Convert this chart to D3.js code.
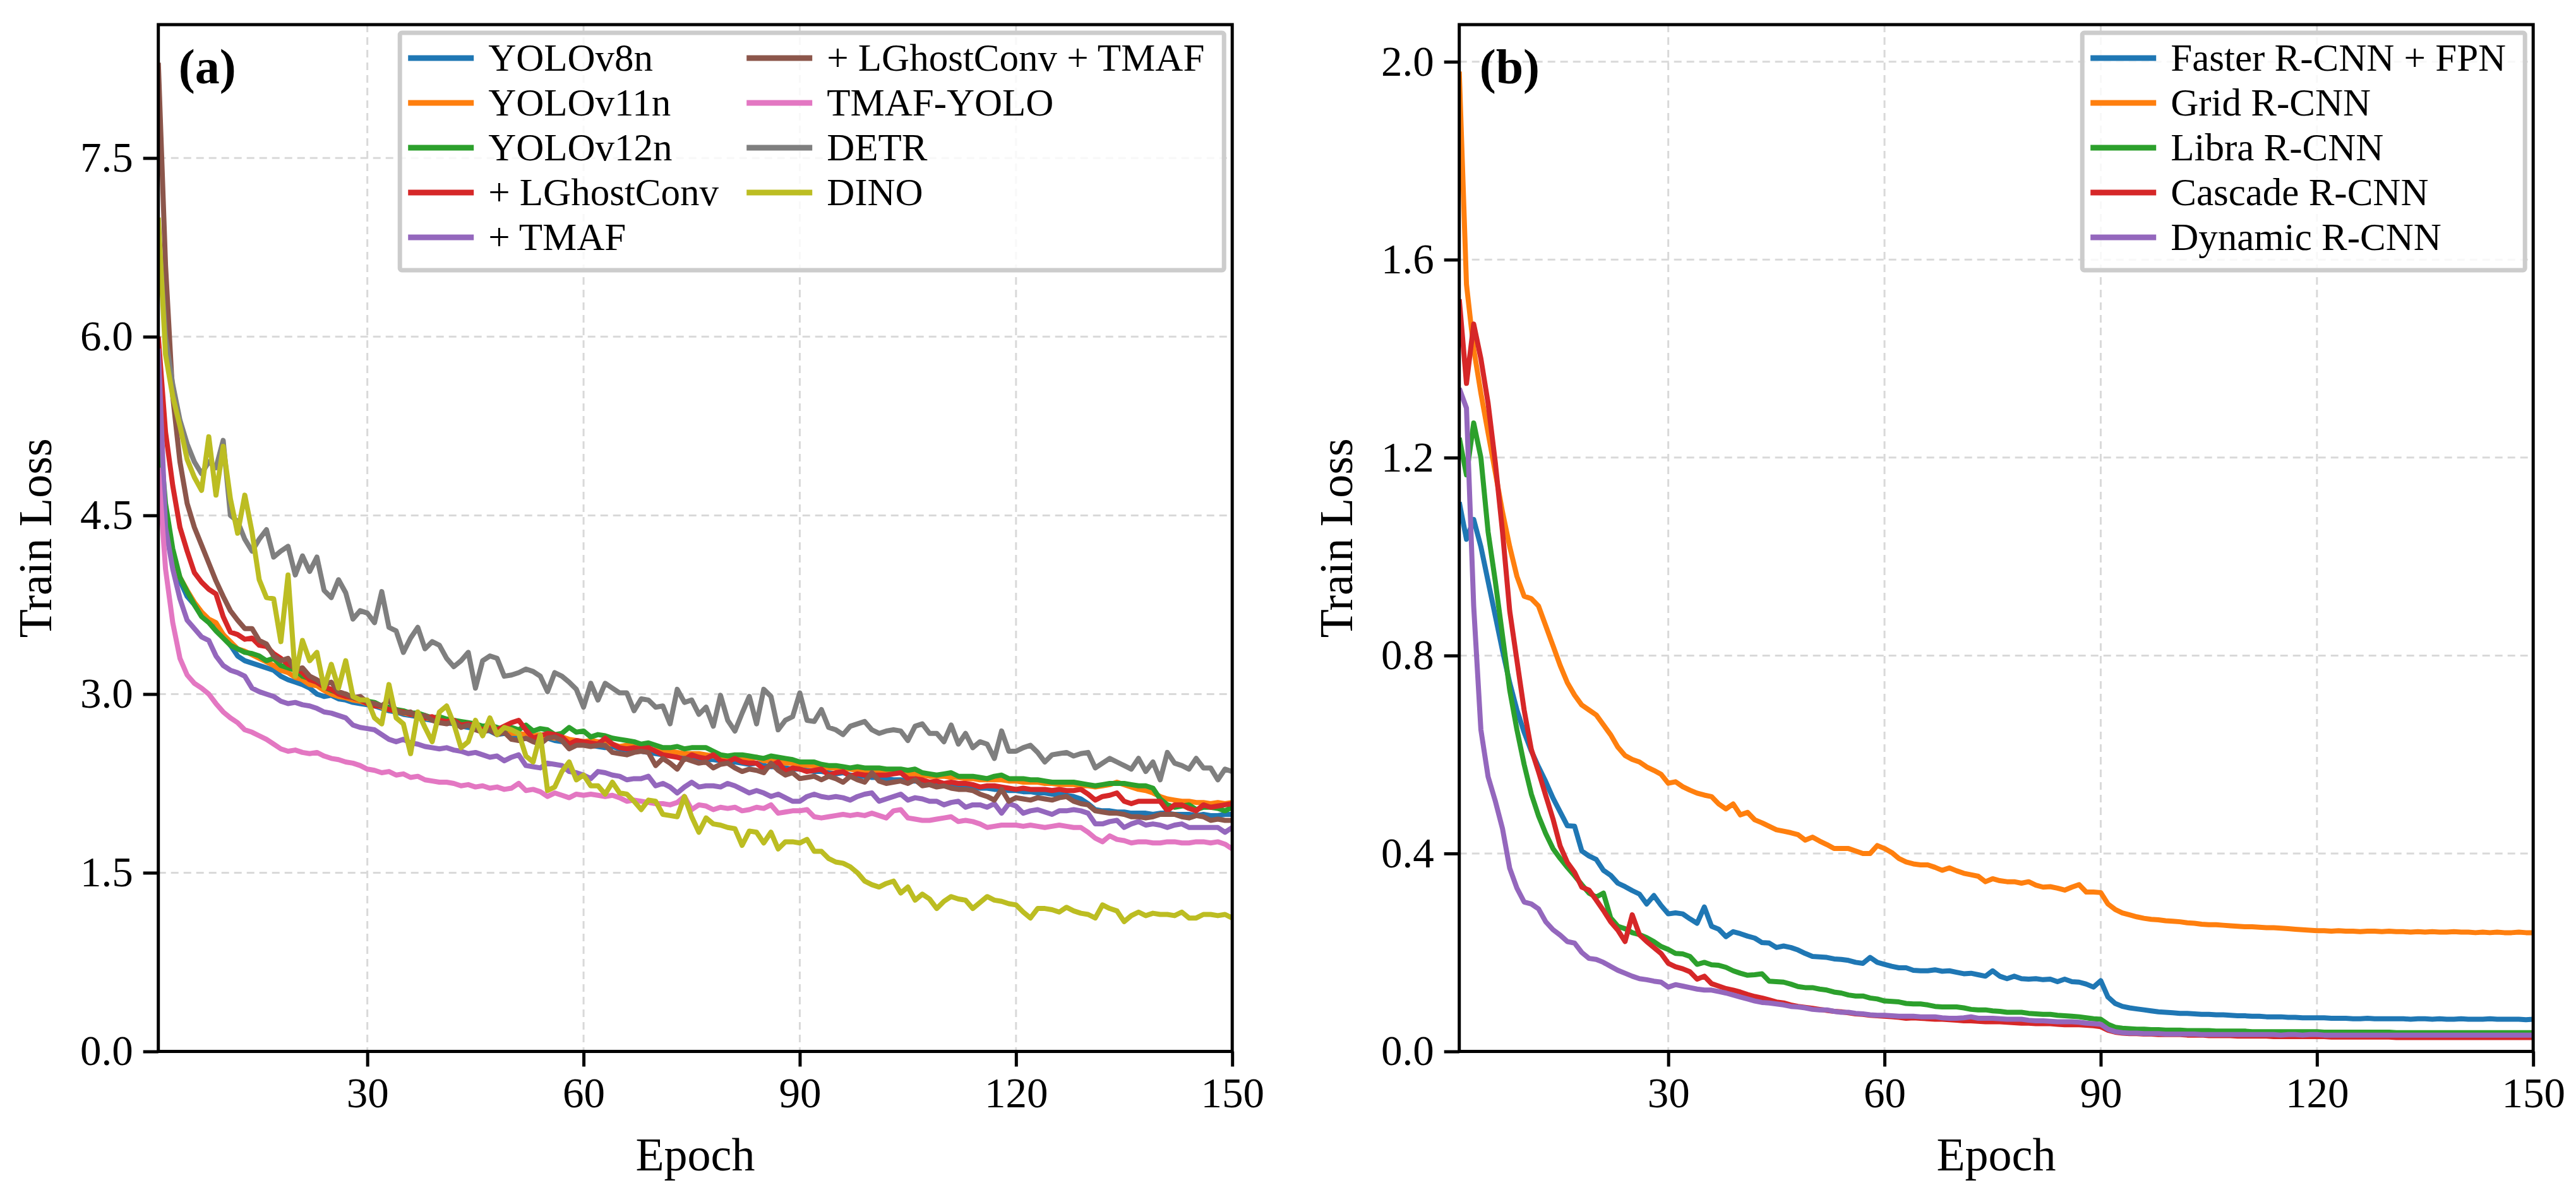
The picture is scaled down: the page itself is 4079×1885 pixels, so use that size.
<!DOCTYPE html>
<html>
<head>
<meta charset="utf-8">
<script src="https://cdn.jsdelivr.net/npm/d3@7"></script>
<style>
  body { margin: 0; background: #fff; }
  svg text { font-family: "Liberation Serif", "Times New Roman", serif; }
</style>
</head>
<body>
<div id="chart"></div>
<script>
// ---- Data: train loss per epoch (1..150) ----

// panel (a)
const yolov8n = [
  5.1,4.4,4.1,3.95,3.82,3.75,3.66,3.62,3.58,3.5,
  3.41,3.32,3.28,3.26,3.24,3.22,3.2,3.15,3.12,3.1,
  3.08,3.05,3.0,2.98,2.99,2.96,2.95,2.93,2.92,2.91,
  2.9,2.88,2.86,2.85,2.83,2.82,2.81,2.79,2.78,2.77,
  2.76,2.75,2.73,2.72,2.71,2.7,2.69,2.66,2.67,2.66,
  2.65,2.64,2.63,2.62,2.63,2.61,2.6,2.59,2.58,2.58,
  2.57,2.56,2.55,2.56,2.54,2.53,2.53,2.52,2.51,2.5,
  2.49,2.5,2.48,2.47,2.47,2.46,2.45,2.45,2.44,2.43,
  2.43,2.42,2.41,2.42,2.4,2.39,2.39,2.38,2.37,2.37,
  2.36,2.35,2.35,2.34,2.33,2.34,2.32,2.31,2.31,2.3,
  2.3,2.29,2.28,2.28,2.27,2.27,2.26,2.25,2.25,2.24,
  2.24,2.23,2.23,2.22,2.21,2.21,2.2,2.2,2.19,2.19,
  2.18,2.18,2.17,2.17,2.16,2.16,2.15,2.14,2.12,2.08,
  2.03,2.02,2.02,2.01,2.01,2.0,2.0,2.0,1.99,2.0,
  2.0,1.99,1.99,1.99,1.98,1.99,1.98,1.98,1.99,1.99
];
const yolov11n = [
  5.0,4.5,4.15,3.98,3.87,3.77,3.69,3.63,3.6,3.5,
  3.44,3.38,3.36,3.33,3.3,3.27,3.24,3.2,3.18,3.14,
  3.12,3.08,3.07,3.03,3.0,2.98,2.97,2.95,2.94,2.92,
  2.91,2.89,2.87,2.86,2.84,2.83,2.82,2.8,2.79,2.78,
  2.77,2.76,2.74,2.74,2.72,2.71,2.7,2.7,2.68,2.67,
  2.67,2.66,2.65,2.66,2.64,2.63,2.64,2.62,2.61,2.6,
  2.61,2.6,2.59,2.58,2.56,2.57,2.56,2.55,2.54,2.53,
  2.52,2.52,2.51,2.5,2.5,2.5,2.49,2.48,2.48,2.47,
  2.46,2.46,2.45,2.47,2.44,2.44,2.43,2.42,2.42,2.41,
  2.4,2.4,2.39,2.38,2.38,2.37,2.37,2.36,2.36,2.35,
  2.35,2.34,2.34,2.34,2.33,2.33,2.32,2.31,2.31,2.31,
  2.3,2.3,2.29,2.29,2.28,2.28,2.28,2.28,2.27,2.27,
  2.26,2.26,2.26,2.25,2.25,2.24,2.24,2.24,2.23,2.23,
  2.22,2.23,2.24,2.26,2.24,2.22,2.2,2.19,2.17,2.14,
  2.12,2.11,2.1,2.1,2.09,2.09,2.08,2.09,2.08,2.09
];
const yolov12n = [
  5.3,4.6,4.22,3.98,3.86,3.75,3.65,3.6,3.53,3.47,
  3.41,3.38,3.35,3.34,3.32,3.28,3.3,3.24,3.22,3.2,
  3.15,3.13,3.1,3.06,3.03,3.01,3.0,2.97,2.96,2.94,
  2.93,2.9,2.89,2.87,2.86,2.84,2.84,2.82,2.8,2.81,
  2.79,2.78,2.77,2.76,2.75,2.73,2.74,2.72,2.7,2.72,
  2.7,2.74,2.69,2.71,2.7,2.66,2.67,2.72,2.68,2.69,
  2.64,2.66,2.65,2.63,2.62,2.61,2.6,2.58,2.59,2.57,
  2.55,2.55,2.56,2.54,2.55,2.55,2.55,2.52,2.49,2.48,
  2.49,2.49,2.48,2.47,2.46,2.48,2.47,2.46,2.45,2.43,
  2.43,2.43,2.41,2.4,2.4,2.39,2.38,2.39,2.38,2.38,
  2.38,2.37,2.37,2.37,2.36,2.37,2.34,2.33,2.32,2.33,
  2.34,2.31,2.31,2.31,2.3,2.29,2.31,2.32,2.29,2.29,
  2.29,2.28,2.28,2.27,2.26,2.26,2.26,2.26,2.25,2.24,
  2.23,2.24,2.25,2.25,2.25,2.24,2.23,2.23,2.21,2.12,
  2.07,2.05,2.06,2.07,2.03,2.05,2.05,2.04,2.02,2.05
];
const plusLGhost = [
  6.0,5.2,4.75,4.4,4.2,4.02,3.94,3.88,3.84,3.65,
  3.52,3.5,3.46,3.47,3.41,3.4,3.34,3.3,3.25,3.22,
  3.18,3.12,3.1,3.06,3.04,3.0,2.98,2.97,2.95,2.92,
  2.9,2.9,2.87,2.86,2.85,2.83,2.83,2.8,2.81,2.78,
  2.77,2.78,2.74,2.75,2.73,2.7,2.72,2.7,2.73,2.76,
  2.78,2.7,2.63,2.65,2.67,2.66,2.64,2.58,2.61,2.6,
  2.59,2.58,2.63,2.58,2.55,2.54,2.55,2.54,2.55,2.52,
  2.49,2.48,2.47,2.45,2.49,2.47,2.46,2.49,2.44,2.43,
  2.46,2.43,2.42,2.42,2.37,2.4,2.43,2.35,2.38,2.37,
  2.35,2.36,2.37,2.32,2.34,2.35,2.31,2.33,2.32,2.32,
  2.32,2.32,2.33,2.34,2.29,2.29,2.28,2.26,2.27,2.25,
  2.26,2.25,2.25,2.24,2.22,2.23,2.23,2.22,2.21,2.2,
  2.21,2.2,2.2,2.2,2.19,2.2,2.19,2.19,2.2,2.16,
  2.11,2.14,2.15,2.17,2.1,2.08,2.1,2.1,2.1,2.1,
  2.02,2.07,2.07,2.04,2.02,2.07,2.05,2.06,2.07,2.08
];
const plusTMAF = [
  5.9,4.4,4.05,3.8,3.62,3.55,3.48,3.45,3.32,3.24,
  3.2,3.18,3.15,3.05,3.02,3.0,2.98,2.94,2.92,2.93,
  2.91,2.9,2.88,2.85,2.84,2.82,2.8,2.74,2.72,2.71,
  2.7,2.66,2.62,2.6,2.62,2.59,2.58,2.56,2.55,2.54,
  2.55,2.53,2.52,2.5,2.51,2.49,2.47,2.48,2.44,2.47,
  2.49,2.4,2.39,2.38,2.42,2.41,2.4,2.35,2.34,2.32,
  2.29,2.35,2.34,2.32,2.31,2.28,2.29,2.29,2.31,2.23,
  2.25,2.22,2.17,2.22,2.26,2.22,2.23,2.23,2.22,2.25,
  2.23,2.2,2.17,2.19,2.17,2.14,2.16,2.13,2.1,2.1,
  2.14,2.16,2.14,2.13,2.14,2.13,2.11,2.14,2.16,2.17,
  2.1,2.12,2.14,2.16,2.11,2.13,2.12,2.1,2.1,2.07,
  2.09,2.1,2.05,2.07,2.07,2.05,2.08,2.0,2.08,2.06,
  2.0,2.02,2.03,2.01,1.99,2.02,2.02,2.03,2.02,2.0,
  1.91,1.91,1.93,1.94,1.88,1.91,1.93,1.9,1.91,1.9,
  1.88,1.9,1.91,1.88,1.88,1.88,1.88,1.88,1.84,1.88
];
const plusLGhostTMAF = [
  8.3,6.6,5.5,4.95,4.6,4.4,4.25,4.1,3.95,3.82,
  3.7,3.62,3.55,3.55,3.45,3.42,3.32,3.28,3.3,3.2,
  3.22,3.15,3.12,3.08,3.1,3.02,3.0,2.97,2.98,2.93,
  2.92,2.9,2.95,2.86,2.84,2.85,2.8,2.82,2.78,2.76,
  2.75,2.77,2.72,2.74,2.7,2.68,2.7,2.66,2.68,2.62,
  2.61,2.63,2.6,2.58,2.63,2.64,2.61,2.54,2.57,2.57,
  2.56,2.57,2.57,2.51,2.5,2.49,2.51,2.52,2.51,2.4,
  2.46,2.42,2.37,2.46,2.44,2.42,2.43,2.38,2.41,2.42,
  2.38,2.35,2.37,2.36,2.34,2.42,2.36,2.32,2.34,2.29,
  2.3,2.31,2.28,2.31,2.29,2.26,2.31,2.28,2.26,2.34,
  2.27,2.25,2.26,2.27,2.25,2.28,2.23,2.24,2.22,2.23,
  2.21,2.2,2.2,2.19,2.16,2.14,2.11,2.2,2.1,2.13,
  2.12,2.11,2.13,2.12,2.11,2.13,2.14,2.1,2.08,2.07,
  2.02,2.01,2.0,2.0,1.99,1.97,1.97,1.96,1.97,1.99,
  1.99,1.99,1.97,1.96,1.98,1.97,1.94,1.95,1.94,1.94
];
const tmafYolo = [
  4.9,4.05,3.6,3.3,3.16,3.09,3.05,3.0,2.92,2.85,
  2.8,2.76,2.7,2.68,2.65,2.62,2.58,2.54,2.52,2.53,
  2.51,2.5,2.51,2.48,2.46,2.45,2.43,2.42,2.4,2.37,
  2.36,2.34,2.35,2.32,2.33,2.3,2.31,2.28,2.27,2.26,
  2.26,2.25,2.23,2.24,2.22,2.23,2.21,2.22,2.2,2.21,
  2.25,2.19,2.2,2.18,2.14,2.17,2.15,2.13,2.16,2.15,
  2.16,2.15,2.14,2.15,2.13,2.1,2.11,2.1,2.09,2.08,
  2.08,2.07,2.09,2.14,2.03,2.07,2.06,2.03,2.05,2.04,
  2.05,2.02,2.03,2.05,2.04,2.07,2.0,2.01,2.02,2.02,
  2.03,1.97,1.96,1.97,1.98,1.99,1.98,1.99,1.98,2.0,
  1.98,1.96,2.02,2.03,1.96,1.95,1.94,1.94,1.95,1.96,
  1.97,1.93,1.94,1.93,1.91,1.88,1.89,1.9,1.9,1.9,
  1.89,1.9,1.89,1.88,1.89,1.9,1.89,1.88,1.88,1.84,
  1.79,1.76,1.81,1.78,1.77,1.75,1.76,1.76,1.75,1.75,
  1.76,1.76,1.75,1.75,1.76,1.76,1.75,1.76,1.74,1.7
];
const detr = [
  6.9,6.0,5.6,5.3,5.1,4.95,4.85,4.95,4.9,5.13,
  4.5,4.45,4.3,4.2,4.3,4.38,4.15,4.2,4.24,4.0,
  4.16,4.03,4.15,3.87,3.81,3.96,3.85,3.63,3.7,3.68,
  3.6,3.86,3.56,3.53,3.35,3.47,3.56,3.38,3.44,3.41,
  3.3,3.23,3.28,3.35,3.05,3.28,3.32,3.3,3.15,3.16,
  3.18,3.21,3.19,3.15,3.02,3.18,3.15,3.1,3.04,2.89,
  3.09,2.95,3.09,3.05,3.01,3.01,2.86,2.96,2.95,2.89,
  2.9,2.75,3.04,2.93,2.95,2.83,2.89,2.73,2.99,2.78,
  2.69,2.84,2.98,2.75,3.04,2.98,2.7,2.78,2.81,3.01,
  2.78,2.77,2.87,2.72,2.7,2.66,2.73,2.75,2.77,2.7,
  2.67,2.69,2.7,2.69,2.61,2.73,2.75,2.67,2.67,2.6,
  2.74,2.58,2.67,2.55,2.6,2.58,2.46,2.69,2.52,2.52,
  2.55,2.57,2.51,2.43,2.49,2.5,2.51,2.48,2.5,2.51,
  2.38,2.42,2.46,2.43,2.4,2.37,2.46,2.35,2.43,2.28,
  2.51,2.42,2.4,2.37,2.46,2.38,2.38,2.28,2.37,2.35
];
const dino = [
  7.0,5.85,5.5,5.25,4.97,4.82,4.71,5.16,4.67,5.08,
  4.64,4.35,4.67,4.36,3.96,3.81,3.8,3.44,4.0,3.15,
  3.45,3.28,3.35,3.05,3.25,3.05,3.28,2.98,2.95,2.95,
  2.8,2.75,3.08,2.8,2.75,2.5,2.85,2.72,2.6,2.85,
  2.9,2.75,2.55,2.6,2.78,2.65,2.8,2.66,2.72,2.7,
  2.67,2.48,2.43,2.66,2.19,2.22,2.35,2.43,2.28,2.32,
  2.23,2.23,2.16,2.26,2.17,2.16,2.1,2.03,2.11,2.1,
  1.99,1.98,1.97,2.14,1.97,1.84,1.96,1.91,1.9,1.88,
  1.87,1.73,1.85,1.84,1.75,1.84,1.7,1.76,1.76,1.75,
  1.78,1.68,1.68,1.62,1.59,1.58,1.55,1.5,1.43,1.4,
  1.38,1.41,1.43,1.33,1.38,1.27,1.32,1.28,1.2,1.26,
  1.3,1.28,1.27,1.2,1.25,1.3,1.27,1.26,1.24,1.23,
  1.17,1.12,1.2,1.2,1.19,1.17,1.21,1.18,1.16,1.15,
  1.12,1.23,1.2,1.18,1.09,1.14,1.17,1.14,1.16,1.15,
  1.15,1.14,1.17,1.12,1.12,1.15,1.15,1.14,1.15,1.12
];

// panel (b)
const fasterRcnnFpn = [
  1.11,1.035,1.075,1.02,0.95,0.88,0.81,0.745,0.69,0.645,
  0.607,0.575,0.545,0.512,0.484,0.456,0.455,0.405,0.395,0.388,
  0.366,0.356,0.34,0.333,0.325,0.318,0.298,0.315,0.295,0.278,
  0.28,0.278,0.268,0.259,0.292,0.253,0.247,0.232,0.242,0.238,
  0.233,0.229,0.22,0.219,0.21,0.213,0.21,0.205,0.198,0.192,
  0.191,0.19,0.187,0.186,0.184,0.18,0.178,0.19,0.18,0.176,
  0.172,0.169,0.169,0.164,0.163,0.163,0.165,0.162,0.163,0.16,
  0.157,0.158,0.155,0.152,0.163,0.152,0.147,0.152,0.147,0.146,
  0.147,0.145,0.146,0.141,0.146,0.141,0.14,0.136,0.13,0.143,
  0.11,0.097,0.091,0.088,0.086,0.084,0.082,0.08,0.079,0.078,
  0.077,0.077,0.076,0.075,0.075,0.074,0.074,0.073,0.072,0.072,
  0.071,0.071,0.07,0.07,0.07,0.069,0.069,0.068,0.068,0.068,
  0.068,0.067,0.067,0.067,0.066,0.066,0.067,0.066,0.066,0.066,
  0.066,0.066,0.065,0.066,0.066,0.065,0.066,0.065,0.065,0.066,
  0.065,0.065,0.065,0.066,0.065,0.065,0.065,0.065,0.064,0.065
];
const gridRcnn = [
  1.98,1.55,1.42,1.33,1.25,1.17,1.09,1.02,0.96,0.92,
  0.915,0.9,0.86,0.82,0.78,0.745,0.72,0.7,0.69,0.68,
  0.66,0.64,0.615,0.598,0.59,0.585,0.575,0.568,0.56,0.542,
  0.545,0.535,0.528,0.522,0.518,0.515,0.5,0.49,0.5,0.478,
  0.483,0.468,0.462,0.455,0.448,0.445,0.442,0.438,0.427,0.433,
  0.425,0.418,0.41,0.41,0.41,0.405,0.4,0.4,0.416,0.41,
  0.402,0.39,0.383,0.379,0.377,0.377,0.372,0.366,0.371,0.365,
  0.36,0.357,0.354,0.343,0.349,0.345,0.343,0.343,0.34,0.343,
  0.336,0.332,0.333,0.33,0.326,0.332,0.337,0.322,0.322,0.321,
  0.298,0.287,0.28,0.276,0.272,0.269,0.267,0.266,0.264,0.263,
  0.262,0.26,0.259,0.257,0.256,0.256,0.255,0.254,0.253,0.252,
  0.252,0.251,0.25,0.25,0.249,0.248,0.247,0.246,0.245,0.244,
  0.244,0.243,0.244,0.243,0.243,0.242,0.243,0.243,0.242,0.243,
  0.242,0.242,0.241,0.242,0.241,0.242,0.241,0.241,0.242,0.241,
  0.241,0.24,0.241,0.24,0.241,0.24,0.24,0.241,0.24,0.24
];
const libraRcnn = [
  1.24,1.165,1.27,1.2,1.05,0.95,0.84,0.73,0.65,0.58,
  0.52,0.476,0.44,0.41,0.39,0.372,0.355,0.337,0.32,0.312,
  0.32,0.27,0.253,0.248,0.24,0.236,0.23,0.222,0.212,0.206,
  0.198,0.197,0.192,0.176,0.18,0.175,0.174,0.17,0.163,0.158,
  0.154,0.155,0.157,0.142,0.141,0.14,0.136,0.131,0.129,0.129,
  0.126,0.124,0.12,0.118,0.114,0.112,0.112,0.108,0.106,0.102,
  0.101,0.1,0.097,0.096,0.096,0.094,0.091,0.09,0.09,0.09,
  0.088,0.085,0.084,0.084,0.082,0.081,0.079,0.079,0.079,0.077,
  0.076,0.075,0.075,0.073,0.072,0.071,0.07,0.068,0.066,0.065,
  0.055,0.049,0.047,0.046,0.045,0.045,0.044,0.044,0.043,0.043,
  0.043,0.042,0.042,0.042,0.042,0.041,0.041,0.041,0.041,0.041,
  0.04,0.04,0.04,0.04,0.04,0.04,0.04,0.04,0.04,0.04,
  0.039,0.039,0.039,0.039,0.039,0.039,0.039,0.039,0.039,0.039,
  0.038,0.038,0.038,0.038,0.038,0.038,0.038,0.038,0.038,0.038,
  0.038,0.038,0.038,0.038,0.038,0.038,0.038,0.038,0.038,0.038
];
const cascadeRcnn = [
  1.52,1.35,1.47,1.4,1.31,1.19,1.05,0.89,0.79,0.69,
  0.61,0.565,0.517,0.47,0.415,0.382,0.362,0.332,0.326,0.306,
  0.285,0.262,0.245,0.222,0.276,0.236,0.222,0.21,0.198,0.178,
  0.171,0.167,0.161,0.146,0.152,0.137,0.132,0.127,0.124,0.12,
  0.115,0.111,0.108,0.104,0.1,0.098,0.094,0.091,0.089,0.087,
  0.085,0.083,0.081,0.08,0.078,0.076,0.075,0.073,0.072,0.071,
  0.07,0.069,0.067,0.068,0.067,0.066,0.065,0.065,0.064,0.063,
  0.062,0.062,0.061,0.06,0.06,0.06,0.059,0.058,0.057,0.057,
  0.056,0.056,0.056,0.055,0.054,0.054,0.054,0.053,0.052,0.05,
  0.043,0.039,0.037,0.036,0.036,0.035,0.035,0.034,0.034,0.034,
  0.034,0.033,0.033,0.033,0.032,0.032,0.032,0.032,0.031,0.031,
  0.031,0.031,0.031,0.03,0.03,0.03,0.03,0.03,0.03,0.03,
  0.03,0.029,0.029,0.029,0.029,0.029,0.029,0.029,0.029,0.029,
  0.028,0.028,0.028,0.028,0.028,0.028,0.028,0.028,0.028,0.028,
  0.028,0.028,0.028,0.028,0.028,0.028,0.028,0.028,0.028,0.028
];
const dynamicRcnn = [
  1.34,1.3,0.9,0.65,0.555,0.506,0.45,0.37,0.33,0.302,
  0.298,0.288,0.262,0.246,0.235,0.222,0.219,0.2,0.188,0.186,
  0.18,0.172,0.164,0.158,0.152,0.147,0.145,0.142,0.14,0.13,
  0.135,0.132,0.129,0.126,0.124,0.124,0.121,0.118,0.114,0.11,
  0.106,0.102,0.099,0.098,0.096,0.094,0.091,0.09,0.088,0.085,
  0.084,0.084,0.081,0.079,0.079,0.077,0.076,0.074,0.073,0.073,
  0.072,0.071,0.071,0.071,0.07,0.07,0.07,0.068,0.067,0.067,
  0.068,0.07,0.067,0.067,0.067,0.066,0.065,0.065,0.065,0.063,
  0.062,0.062,0.061,0.06,0.06,0.06,0.059,0.057,0.056,0.055,
  0.045,0.04,0.038,0.037,0.037,0.036,0.036,0.036,0.035,0.035,
  0.035,0.035,0.035,0.034,0.034,0.034,0.034,0.034,0.034,0.034,
  0.034,0.034,0.034,0.034,0.033,0.034,0.034,0.033,0.034,0.034,
  0.033,0.033,0.033,0.033,0.033,0.033,0.033,0.033,0.033,0.033,
  0.033,0.033,0.033,0.033,0.033,0.033,0.033,0.033,0.033,0.033,
  0.033,0.033,0.033,0.033,0.033,0.033,0.033,0.033,0.033,0.033
];

// tick labels
const epochTicks = [30, 60, 90, 120, 150];
const lossTicksA = [0, 1.5, 3.0, 4.5, 6.0, 7.5];
const lossTicksB = [0, 0.4, 0.8, 1.2, 1.6, 2.0];

// series lists (legend order = draw order)
const seriesA = [
  { name: "YOLOv8n", values: yolov8n, color: "#1f77b4" },
  { name: "YOLOv11n", values: yolov11n, color: "#ff7f0e" },
  { name: "YOLOv12n", values: yolov12n, color: "#2ca02c" },
  { name: "+ LGhostConv", values: plusLGhost, color: "#d62728" },
  { name: "+ TMAF", values: plusTMAF, color: "#9467bd" },
  { name: "+ LGhostConv + TMAF", values: plusLGhostTMAF, color: "#8c564b" },
  { name: "TMAF-YOLO", values: tmafYolo, color: "#e377c2" },
  { name: "DETR", values: detr, color: "#7f7f7f" },
  { name: "DINO", values: dino, color: "#bcbd22" }
];
const seriesB = [
  { name: "Faster R-CNN + FPN", values: fasterRcnnFpn, color: "#1f77b4" },
  { name: "Grid R-CNN", values: gridRcnn, color: "#ff7f0e" },
  { name: "Libra R-CNN", values: libraRcnn, color: "#2ca02c" },
  { name: "Cascade R-CNN", values: cascadeRcnn, color: "#d62728" },
  { name: "Dynamic R-CNN", values: dynamicRcnn, color: "#9467bd" }
];

// ---- Layout ----
const WIDTH = 4079, HEIGHT = 1885;
const plotTop = 39, plotW = 1700.5, plotH = 1626.5;
const FONT = '"Liberation Serif", "Times New Roman", serif';

const svg = d3.select("#chart")
  .append("svg")
  .attr("width", WIDTH)
  .attr("height", HEIGHT)
  .style("background", "#fff");

function drawPanel(opt) {
  const g = svg.append("g").attr("transform", `translate(${opt.left},${plotTop})`);

  const x = d3.scaleLinear().domain([1, 150]).range([0, plotW]);
  const y = d3.scaleLinear().domain([0, opt.yMax]).range([plotH, 0]);

  // clip so nothing leaks outside the frame
  g.append("clipPath").attr("id", "clip-" + opt.id)
    .append("rect").attr("width", plotW).attr("height", plotH);

  // dashed grid
  const grid = g.append("g").attr("stroke", "#d9d9d9").attr("stroke-width", 3)
    .attr("stroke-dasharray", "12,8");
  grid.selectAll(".gx").data(epochTicks).join("line")
    .attr("x1", d => x(d)).attr("x2", d => x(d)).attr("y1", 0).attr("y2", plotH);
  grid.selectAll(".gy").data(opt.yTicks).join("line")
    .attr("x1", 0).attr("x2", plotW).attr("y1", d => y(d)).attr("y2", d => y(d));

  // curves
  const line = d3.line().x((d, i) => x(i + 1)).y(d => y(d));
  g.append("g").attr("clip-path", `url(#clip-${opt.id})`)
    .selectAll("path")
    .data(opt.series)
    .join("path")
    .attr("d", d => line(d.values))
    .attr("fill", "none")
    .attr("stroke", d => d.color)
    .attr("stroke-width", 8)
    .attr("stroke-linejoin", "round");

  // axes
  const xAxis = g.append("g").attr("transform", `translate(0,${plotH})`)
    .call(d3.axisBottom(x).tickValues(epochTicks).tickSize(24).tickSizeOuter(0).tickPadding(17));
  const yAxis = g.append("g")
    .call(d3.axisLeft(y).tickValues(opt.yTicks).tickFormat(d3.format(".1f"))
      .tickSize(24).tickSizeOuter(0).tickPadding(16));
  [xAxis, yAxis].forEach(a => {
    a.select(".domain").remove();
    a.attr("font-family", FONT).attr("font-size", 67);
    a.selectAll(".tick line").attr("stroke", "#000").attr("stroke-width", 5);
    a.selectAll(".tick text").attr("fill", "#000");
  });

  // frame
  g.append("rect").attr("width", plotW).attr("height", plotH)
    .attr("fill", "none").attr("stroke", "#000").attr("stroke-width", 5);

  // panel tag
  g.append("text").attr("x", 32).attr("y", 93)
    .attr("font-size", 78).attr("font-weight", "bold").text(opt.tag);

  // axis labels
  g.append("text")
    .attr("transform", `translate(-170,${plotH / 2}) rotate(-90)`)
    .attr("text-anchor", "middle").attr("font-size", 74).text("Train Loss");
  g.append("text")
    .attr("x", plotW / 2).attr("y", plotH + 188)
    .attr("text-anchor", "middle").attr("font-size", 74).text("Epoch");

  // legend
  const lgW = opt.legendW, lgH = 376;
  const lg = g.append("g").attr("transform", `translate(${plotW - 13 - lgW},13)`);
  lg.append("rect").attr("width", lgW).attr("height", lgH).attr("rx", 3)
    .attr("fill", "#fff").attr("fill-opacity", 0.8)
    .attr("stroke", "#cccccc").attr("stroke-width", 7);

  const items = lg.selectAll(".item").data(opt.series).join("g")
    .attr("transform", (d, i) => {
      const col = Math.floor(i / 5), row = i % 5;
      return `translate(${13 + col * opt.colGap},${40 + row * 71})`;
    });
  items.append("line").attr("x1", 0).attr("x2", 104)
    .attr("stroke", d => d.color).attr("stroke-width", 9);
  items.append("text").attr("x", 127).attr("y", 20)
    .attr("font-size", 61).text(d => d.name);
}

drawPanel({ id: "a", left: 250.7, yMax: 8.62, yTicks: lossTicksA, tag: "(a)",
  series: seriesA, legendW: 1305, colGap: 536 });
drawPanel({ id: "b", left: 2310.7, yMax: 2.075, yTicks: lossTicksB, tag: "(b)",
  series: seriesB, legendW: 701, colGap: 0 });
</script>
</body>
</html>
